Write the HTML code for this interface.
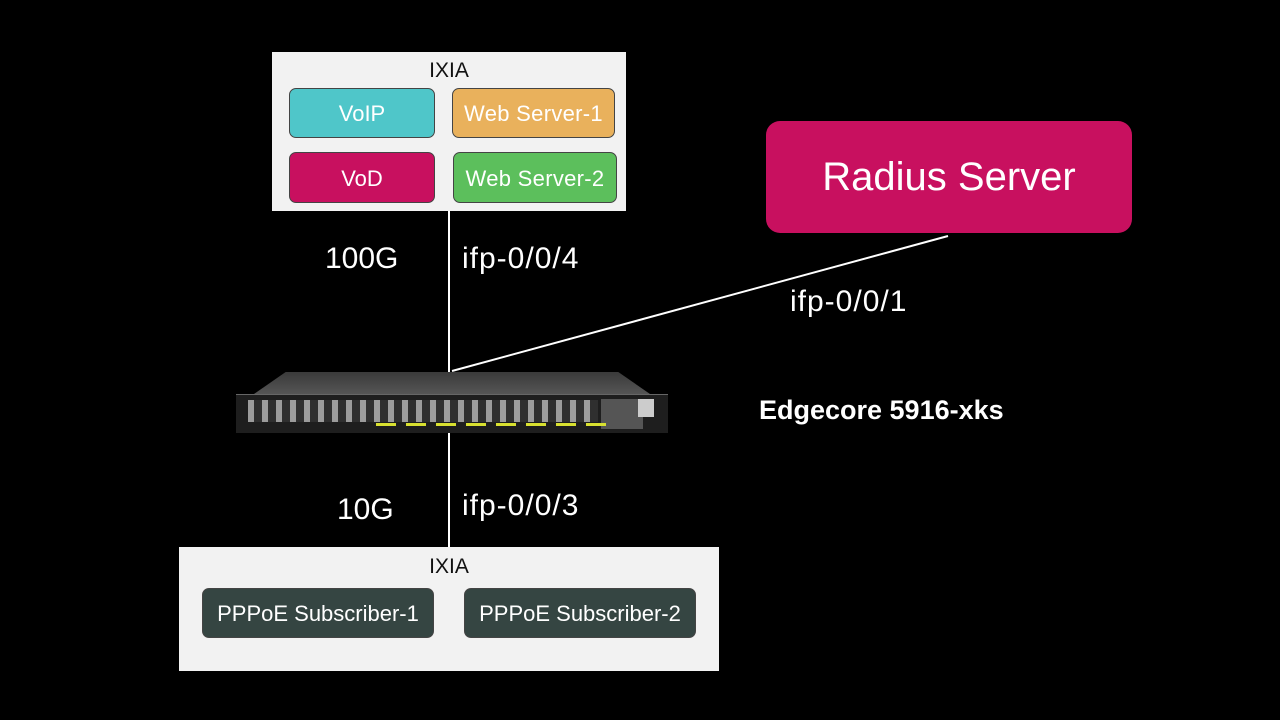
<!DOCTYPE html>
<html><head><style>
body{margin:0;background:#000;width:1280px;height:720px;overflow:hidden;position:relative;font-family:"Liberation Sans",sans-serif;}
.a{position:absolute;}
.box{position:absolute;border:1px solid #444;border-radius:7px;color:#fff;display:flex;align-items:center;justify-content:center;font-size:22px;box-sizing:border-box;padding-top:2px}
.lbl{position:absolute;color:#fff;font-size:30px;letter-spacing:1px}
</style></head><body>
<svg class="a" style="left:0;top:0" width="1280" height="720">
<line x1="449" y1="211" x2="449" y2="375" stroke="#fff" stroke-width="2"/>
<line x1="449" y1="430" x2="449" y2="548" stroke="#fff" stroke-width="2"/>
<line x1="452" y1="371" x2="948" y2="236" stroke="#fff" stroke-width="2"/>
</svg>
<div class="a" style="left:272px;top:52px;width:354px;height:159px;background:#f2f2f2;"></div>
<div class="a" style="left:272px;top:59px;width:354px;text-align:center;font-size:21px;color:#111">IXIA</div>
<div class="box" style="left:289px;top:88px;width:146px;height:50px;background:#4fc6c9">VoIP</div>
<div class="box" style="left:452px;top:88px;width:163px;height:50px;background:#e9b15c;letter-spacing:.3px">Web Server-1</div>
<div class="box" style="left:289px;top:152px;width:146px;height:51px;background:#c8105f">VoD</div>
<div class="box" style="left:453px;top:152px;width:164px;height:51px;background:#5cbf5c;letter-spacing:.3px">Web Server-2</div>

<div class="a" style="left:179px;top:547px;width:540px;height:124px;background:#f2f2f2;"></div>
<div class="a" style="left:179px;top:555px;width:540px;text-align:center;font-size:21px;color:#111">IXIA</div>
<div class="box" style="left:202px;top:588px;width:232px;height:50px;background:#354542">PPPoE Subscriber-1</div>
<div class="box" style="left:464px;top:588px;width:232px;height:50px;background:#354542">PPPoE Subscriber-2</div>

<div class="a" style="left:766px;top:121px;width:366px;height:112px;background:#c8105f;border-radius:14px;color:#fff;font-size:40px;display:flex;align-items:center;justify-content:center">Radius Server</div>

<div class="lbl" style="left:325px;top:242px;letter-spacing:0">100G</div>
<div class="lbl" style="left:462px;top:242px">ifp-0/0/4</div>
<div class="lbl" style="left:790px;top:285px">ifp-0/0/1</div>
<div class="lbl" style="left:337px;top:493px;letter-spacing:0">10G</div>
<div class="lbl" style="left:462px;top:489px">ifp-0/0/3</div>
<div class="a" style="left:759px;top:395px;color:#fff;font-size:27px;font-weight:bold">Edgecore 5916-xks</div>

<div class="a" style="left:236px;top:372px;width:432px;height:60px;">
 <div class="a" style="left:18px;top:0;width:396px;height:22px;background:linear-gradient(#3a3a3a,#555);clip-path:polygon(8% 0,92% 0,100% 100%,0 100%)"></div>
 <div class="a" style="left:0;top:22px;width:432px;height:38px;background:#1e1e1e;border-top:1px solid #666"></div>
 <div class="a" style="left:12px;top:28px;width:350px;height:22px;background:repeating-linear-gradient(90deg,#bbb 0 6px,#333 6px 14px);opacity:.8"></div>
 <div class="a" style="left:365px;top:27px;width:42px;height:30px;background:#555"></div>
 <div class="a" style="left:402px;top:27px;width:16px;height:18px;background:#ccc"></div>
 <div class="a" style="left:140px;top:51px;width:230px;height:3px;background:repeating-linear-gradient(90deg,#d8e030 0 20px,transparent 20px 30px)"></div>
</div>
</body></html>
